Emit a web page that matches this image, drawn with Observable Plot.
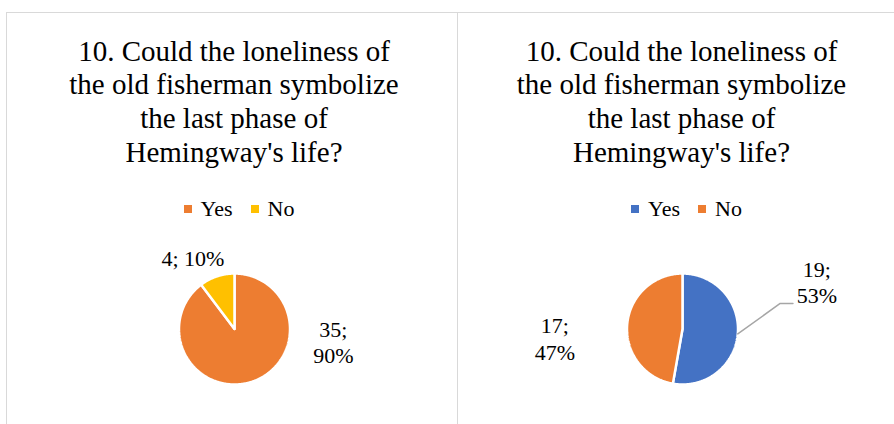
<!DOCTYPE html>
<html><head><meta charset="utf-8">
<script src="https://cdn.jsdelivr.net/npm/d3@7"></script>
<script src="https://cdn.jsdelivr.net/npm/@observablehq/plot@0.6"></script>
<style>
body{margin:0;background:#fff;font-family:"Liberation Serif","Times New Roman",serif;}
#wrap{position:relative;width:894px;height:424px;overflow:hidden;background:#fff;}
.panel{position:absolute;top:12px;height:460px;border-top:1.5px solid #d9d9d9;border-left:1.5px solid #d9d9d9;box-sizing:border-box;}
.title{position:absolute;width:500px;text-align:center;font-size:29px;line-height:33.8px;color:#000;}
.legend{position:absolute;width:300px;display:flex;justify-content:center;align-items:center;font-size:22px;line-height:22px;color:#000;}
.sw{display:inline-block;width:8px;height:8px;margin-right:9px;}
.item{display:flex;align-items:center;margin:0 9px;}
svg{position:absolute;}
</style></head>
<body><div id="wrap"></div>
<script>
// ---- data ----
const categories = ["Yes", "No"];
const leftValues = [35, 4];
const rightValues = [19, 17];
const leftColors = ["#ED7D31", "#FFC000"];
const rightColors = ["#4472C4", "#ED7D31"];
const titleLines = ["10. Could the loneliness of", "the old fisherman symbolize", "the last phase of", "Hemingway's life?"];

// ---- layout (pixels / pie-radius units) ----
const R = 55.5;
const svgTop = 230, svgH = 194, cyInSvg = 98.5;
const panels = [
  {values: leftValues, colors: leftColors, cx: 234, left: 5.5, width: 452,
   labelPos: [[1.78, -0.23, true], [-0.75, 1.28, false]], leader: null},
  {values: rightValues, colors: rightColors, cx: 681.5, left: 457, width: 460,
   labelPos: [[2.42, 0.86, true], [-2.3, -0.16, true]], leader: {slice: 0, bend: [1.76, 0.46], end: [1.99, 0.46]}}
];

const wrap = document.getElementById("wrap");
const font = '"Liberation Serif","Times New Roman",serif';

for (const p of panels) {
  const box = document.createElement("div");
  box.className = "panel";
  box.style.left = p.left + "px";
  box.style.width = p.width + "px";
  wrap.appendChild(box);

  const t = document.createElement("div");
  t.className = "title";
  t.style.left = (p.cx - 250) + "px";
  t.style.top = "34.5px";
  t.innerHTML = titleLines.join("<br>");
  wrap.appendChild(t);

  const lg = document.createElement("div");
  lg.className = "legend";
  lg.style.left = (p.cx + 5 - 150) + "px";
  lg.style.top = "197.6px";
  categories.forEach((c, i) => {
    const it = document.createElement("span");
    it.className = "item";
    it.innerHTML = `<span class="sw" style="background:${p.colors[i]}"></span>${c}`;
    lg.appendChild(it);
  });
  wrap.appendChild(lg);

  const total = d3.sum(p.values);
  const data = categories.map((c, i) => ({cat: c, value: p.values[i]}));
  const arcs = d3.pie().sort(null).value(d => d.value)(data);
  const pts = [];
  arcs.forEach(a => {
    pts.push({cat: a.data.cat, x: 0, y: 0});
    const n = Math.max(2, Math.ceil((a.endAngle - a.startAngle) / 0.01));
    for (let k = 0; k <= n; k++) {
      const ang = a.startAngle + (a.endAngle - a.startAngle) * k / n;
      pts.push({cat: a.data.cat, x: Math.sin(ang), y: Math.cos(ang)});
    }
    pts.push({cat: a.data.cat, x: 0, y: 0});
  });
  const labels = arcs.map((a, i) => {
    const pct = Math.round(a.data.value / total * 100);
    const [lx, ly, two] = p.labelPos[i];
    return {x: lx, y: ly, text: `${a.data.value};${two ? "\n" : " "}${pct}%`};
  });
  const marks = [
    Plot.line(pts, {x: "x", y: "y", z: "cat", fill: "cat", stroke: "white", strokeWidth: 2.5, strokeLinejoin: "miter", curve: "linear"}),
    Plot.text(labels, {x: "x", y: "y", text: "text", fontSize: 22, lineHeight: 1.2, fill: "#000", fontFamily: font})
  ];
  if (p.leader) {
    const a = arcs[p.leader.slice];
    const mid = (a.startAngle + a.endAngle) / 2;
    const lp = [{x: Math.sin(mid), y: Math.cos(mid)}, {x: p.leader.bend[0], y: p.leader.bend[1]}, {x: p.leader.end[0], y: p.leader.end[1]}];
    marks.push(Plot.line(lp, {x: "x", y: "y", stroke: "#a6a6a6", strokeWidth: 1.5}));
  }
  const svgLeft = p.left + 1.5;
  const W = p.width - 1.5;
  const cxIn = p.cx - svgLeft;
  const chart = Plot.plot({
    width: W, height: svgH, margin: 0,
    x: {domain: [-cxIn / R, (W - cxIn) / R], axis: null},
    y: {domain: [-(svgH - cyInSvg) / R, cyInSvg / R], axis: null},
    color: {domain: categories, range: p.colors},
    style: {background: "transparent", fontFamily: font, overflow: "visible"},
    marks
  });
  chart.style.left = svgLeft + "px";
  chart.style.top = svgTop + "px";
  wrap.appendChild(chart);
}
</script></body></html>
